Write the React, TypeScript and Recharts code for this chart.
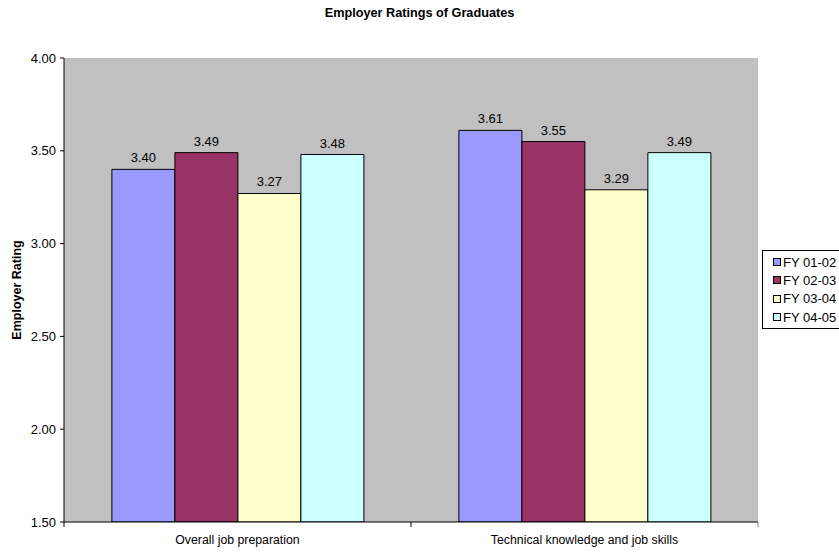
import { Bar, BarChart, CartesianGrid, LabelList, XAxis, YAxis } from "recharts";

const categories = ["Overall job preparation", "Technical knowledge and job skills"];
const seriesNames = ["FY 01-02", "FY 02-03", "FY 03-04", "FY 04-05"];
const seriesColors = ["#9999FF", "#993366", "#FFFFCC", "#CCFFFF"];
const fy0102 = [3.4, 3.61];
const fy0203 = [3.49, 3.55];
const fy0304 = [3.27, 3.29];
const fy0405 = [3.48, 3.49];
const yTicks = [1.5, 2.0, 2.5, 3.0, 3.5, 4.0];

const seriesValues = [fy0102, fy0203, fy0304, fy0405];
const data = categories.map((name, i) => {
  const row: Record<string, string | number> = { name };
  seriesNames.forEach((s, j) => {
    row[s] = seriesValues[j][i];
  });
  return row;
});

const FONT = "'Liberation Sans', Arial, sans-serif";

function CategoryTick(props: any) {
  const { x, y, payload, index, width, visibleTicksCount } = props;
  const half = width / visibleTicksCount / 2;
  return (
    <g>
      <line x1={x - half} y1={y - 8} x2={x - half} y2={y - 3} stroke="#000" />
      {index === visibleTicksCount - 1 && (
        <line x1={x + half} y1={y - 8} x2={x + half} y2={y - 3} stroke="#808080" />
      )}
      <text x={x} y={y + 14} textAnchor="middle" fontSize={12.3} fill="#000" fontFamily={FONT}>
        {payload.value}
      </text>
    </g>
  );
}

export default function App() {
  return (
    <div
      style={{
        position: "absolute",
        left: 0,
        top: 0,
        width: 839,
        height: 552,
        overflow: "hidden",
        background: "#fff",
        fontFamily: FONT,
      }}
    >
      <div
        style={{
          position: "absolute",
          top: 6,
          left: 0,
          width: 839,
          textAlign: "center",
          fontSize: 12.7,
          fontWeight: "bold",
        }}
      >
        Employer Ratings of Graduates
      </div>
      <BarChart
        width={839}
        height={552}
        data={data}
        margin={{ top: 58, right: 81, bottom: 0, left: 4 }}
        barCategoryGap="13.8%"
        barGap={0}
      >
        <CartesianGrid fill="#C0C0C0" horizontal={false} vertical={false} />
        <XAxis
          dataKey="name"
          height={30}
          tickLine={false}
          axisLine={{ stroke: "#000" }}
          tick={<CategoryTick />}
        />
        <XAxis
          xAxisId="top"
          orientation="top"
          dataKey="name"
          height={0}
          tick={false}
          tickLine={false}
          axisLine={{ stroke: "#808080" }}
        />
        <YAxis
          domain={[1.5, 4]}
          ticks={yTicks}
          width={60}
          tickSize={4}
          tickMargin={4}
          tickLine={{ stroke: "#000" }}
          axisLine={{ stroke: "#000" }}
          tick={{ fontSize: 13, fill: "#000", fontFamily: FONT }}
          tickFormatter={(v: number) => v.toFixed(2)}
          allowDataOverflow
          label={{
            content: (p: any) => {
              const vb = p.viewBox;
              const cx = vb.x + 14;
              const cy = vb.y + vb.height / 2;
              return (
                <text
                  x={cx}
                  y={cy}
                  transform={`rotate(-90 ${cx} ${cy})`}
                  textAnchor="middle"
                  dominantBaseline="middle"
                  fontSize={12.5}
                  fontWeight="bold"
                  fontFamily={FONT}
                  fill="#000"
                >
                  Employer Rating
                </text>
              );
            },
          }}
        />
        <YAxis
          yAxisId="right"
          orientation="right"
          domain={[1.5, 4]}
          width={0}
          tick={false}
          tickLine={false}
          axisLine={{ stroke: "#808080" }}
        />
        {seriesNames.map((s, j) => (
          <Bar
            key={s}
            dataKey={s}
            fill={seriesColors[j]}
            stroke="#000"
            strokeWidth={1}
            isAnimationActive={false}
          >
            <LabelList
              dataKey={s}
              position="top"
              offset={7}
              fontSize={13}
              fill="#000"
              fontFamily={FONT}
              formatter={(v: any) => Number(v).toFixed(2)}
            />
          </Bar>
        ))}
      </BarChart>
      <div
        style={{
          position: "absolute",
          left: 762,
          top: 250,
          width: 90,
          height: 79,
          border: "1px solid #000",
          background: "#fff",
          boxSizing: "border-box",
          paddingTop: 2,
        }}
      >
        {seriesNames.map((s, j) => (
          <div
            key={s}
            style={{
              display: "flex",
              alignItems: "center",
              height: 18.3,
              fontSize: 13,
              paddingLeft: 10,
              whiteSpace: "nowrap",
            }}
          >
            <span
              style={{
                display: "inline-block",
                width: 6,
                height: 6,
                border: "1px solid #000",
                background: seriesColors[j],
                marginRight: 2,
                flexShrink: 0,
              }}
            />
            {s}
          </div>
        ))}
      </div>
    </div>
  );
}
